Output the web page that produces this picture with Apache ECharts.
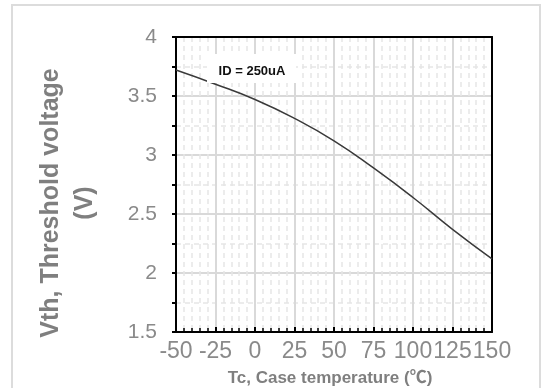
<!DOCTYPE html>
<html><head><meta charset="utf-8">
<script src="https://cdn.jsdelivr.net/npm/echarts@6/dist/echarts.min.js"></script>
<style>html,body{margin:0;padding:0;background:#fff}#c{width:542px;height:388px}</style>
</head><body><div id="c"></div>
<script>
const temps = [-50, -25, 0, 25, 50, 75, 100, 125, 150];
const vth = [3.72, 3.60, 3.47, 3.31, 3.12, 2.89, 2.64, 2.37, 2.12];
const xTicks = [-50, 150, 25];
const yTicks = [1.5, 4, 0.5];
const labelText = 'ID = 250uA';
const xTitle = 'Tc, Case temperature (℃)';
const yTitle = 'Vth, Threshold voltage\n(V)';

const chart = echarts.init(document.getElementById('c'));
const gray = '#8a8a8a';
const frameAxis = {show: true, onZero: false, lineStyle: {color: '#000', width: 2}};
chart.setOption({
  animation: false,
  grid: {left: 176, top: 37, width: 316, height: 295},
  xAxis: [{
    type: 'value', min: xTicks[0], max: xTicks[1], interval: xTicks[2],
    axisLine: {onZero: false, lineStyle: {color: '#000', width: 2}},
    axisTick: {inside: true, length: 5, lineStyle: {color: '#000', width: 2}},
    minorTick: {show: true, splitNumber: 5, length: 4, lineStyle: {color: '#000', width: 1.5}},
    splitLine: {show: true, lineStyle: {color: '#d9d9d9', width: 2}},
    minorSplitLine: {show: true, lineStyle: {color: '#e6e6e6', width: 1.5, type: [5, 4]}},
    axisLabel: {color: gray, fontSize: 23, fontFamily: 'Liberation Sans', margin: 8, interval: 0, hideOverlap: false, showMinLabel: true, showMaxLabel: true}
  }, {
    type: 'value', position: 'top', min: xTicks[0], max: xTicks[1], interval: xTicks[2],
    axisLine: frameAxis, axisTick: {show: false}, axisLabel: {show: false}, splitLine: {show: false}
  }],
  yAxis: [{
    type: 'value', min: yTicks[0], max: yTicks[1], interval: yTicks[2],
    axisLine: {show: true, onZero: false, lineStyle: {color: '#000', width: 2}},
    axisTick: {show: true, inside: false, length: 4, lineStyle: {color: '#000', width: 2}},
    minorTick: {show: true, splitNumber: 2, length: 4, lineStyle: {color: '#000', width: 2}},
    splitLine: {show: true, lineStyle: {color: '#d9d9d9', width: 2}},
    minorSplitLine: {show: true, lineStyle: {color: '#e6e6e6', width: 1.5, type: [5, 4]}},
    axisLabel: {color: gray, fontSize: 21, fontFamily: 'Liberation Sans', margin: 19}
  }, {
    type: 'value', position: 'right', min: yTicks[0], max: yTicks[1], interval: yTicks[2],
    axisLine: frameAxis, axisTick: {show: false}, axisLabel: {show: false}, splitLine: {show: false}
  }],
  series: [{
    type: 'line', data: temps.map((t, i) => [t, vth[i]]), smooth: true, showSymbol: false,
    lineStyle: {color: '#3a3a3a', width: 1.5}, z: 3
  }],
  graphic: [
    {type: 'rect', shape: {x: 12, y: 5, width: 528, height: 400}, style: {fill: 'none', stroke: '#dcdcdc', lineWidth: 2}, z: 0},
    {type: 'rect', shape: {x: 207, y: 54, width: 89, height: 29}, style: {fill: '#fff'}, z: 10},
    {type: 'text', x: 252, y: 71, z: 11, style: {text: labelText, font: 'bold 13px "Liberation Sans"', fill: '#111', textAlign: 'center', textVerticalAlign: 'middle'}},
    {type: 'text', x: 330, y: 378, z: 11, style: {text: xTitle, font: 'bold 17px "Liberation Sans", "Noto Sans CJK SC"', fill: '#7f7f7f', textAlign: 'center', textVerticalAlign: 'middle'}},
    {type: 'text', x: 68, y: 203, rotation: Math.PI / 2, z: 11, style: {text: yTitle, font: 'bold 25px "Liberation Sans"', lineHeight: 34, fill: '#7f7f7f', textAlign: 'center', textVerticalAlign: 'middle'}}
  ]
});
</script></body></html>
